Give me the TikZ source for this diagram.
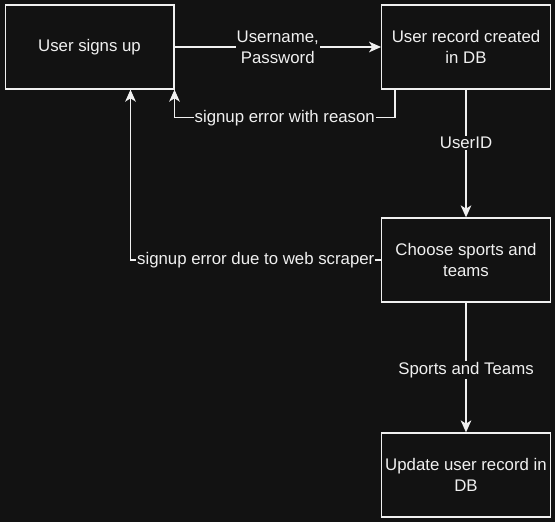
\documentclass[tikz,border=0pt]{standalone}
\usepackage{fontspec}
\setmainfont{Liberation Sans}
\usetikzlibrary{arrows.meta}
\definecolor{bgc}{HTML}{121212}
\definecolor{fgc}{HTML}{F0F0F0}
\begin{document}
\begin{tikzpicture}[x=0.75pt,y=-0.75pt,
  every node/.style={text=fgc,font=\fontsize{12.6}{15.5}\selectfont},
  box/.style={draw=fgc,line width=1pt,fill=bgc,minimum width=126.5pt,minimum height=63pt,align=center,inner sep=1pt},
  arr/.style={draw=fgc,line width=0.9pt,-{Stealth[length=9pt,width=8pt,inset=2.5pt]}},
  lbl/.style={fill=bgc,inner sep=0.8pt,align=center}]
\fill[bgc] (0,0) rectangle (555,522);
\useasboundingbox (0,0) rectangle (555,522);
\node[box] (signup) at (89.5,47) {User signs up};
\node[box] (created) at (466,47) {User record created\\in DB};
\node[box] (choose) at (466,260) {Choose sports and\\teams};
\node[box] (update) at (466,475) {Update user record in\\DB};
\draw[arr] (signup.east) -- node[lbl] {Username,\\Password} (created.west);
\draw[arr] ([xshift=10.5pt]created.south west) -- ++(0,28) -| node[lbl,pos=0.25] {signup error with reason} (signup.south east);
\draw[arr] (created.south) -- node[lbl,pos=0.42] {UserID} (choose.north);
\draw[arr] (choose.west) -| node[lbl,pos=0.25] {signup error due to web scraper} ([xshift=94.5pt]signup.south west);
\draw[arr] (choose.south) -- node[lbl,pos=0.52] {Sports and Teams} (update.north);
\end{tikzpicture}
\end{document}
